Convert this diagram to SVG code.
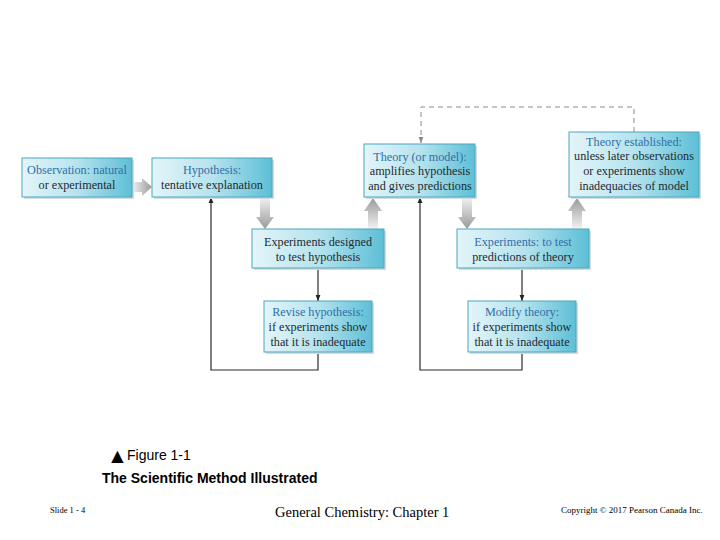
<svg xmlns="http://www.w3.org/2000/svg" width="720" height="540" viewBox="0 0 720 540">
<defs>
<linearGradient id="boxg" x1="0" y1="0" x2="1" y2="0">
<stop offset="0" stop-color="#e3f5f9"/>
<stop offset="0.5" stop-color="#b6e3ee"/>
<stop offset="1" stop-color="#5dbfd6"/>
</linearGradient>
<linearGradient id="gdown" x1="0" y1="0" x2="0" y2="1">
<stop offset="0" stop-color="#f2f2f2"/>
<stop offset="1" stop-color="#9a9a9a"/>
</linearGradient>
<linearGradient id="gup" x1="0" y1="1" x2="0" y2="0">
<stop offset="0" stop-color="#f2f2f2"/>
<stop offset="1" stop-color="#9a9a9a"/>
</linearGradient>
<linearGradient id="gright" x1="0" y1="0" x2="1" y2="0">
<stop offset="0" stop-color="#f2f2f2"/>
<stop offset="1" stop-color="#9a9a9a"/>
</linearGradient>
<marker id="ah" viewBox="0 0 10 10" refX="10" refY="5" markerWidth="6" markerHeight="6" orient="auto" markerUnits="userSpaceOnUse">
<path d="M0,1 L10,5 L0,9 z" fill="#222"/>
</marker>
<marker id="ahg" viewBox="0 0 10 10" refX="10" refY="5" markerWidth="6" markerHeight="6" orient="auto" markerUnits="userSpaceOnUse">
<path d="M0,1 L10,5 L0,9 z" fill="#888"/>
</marker>
</defs>
<style>
.box{fill:url(#boxg);stroke:#4aa6be;stroke-width:1}
.sh{fill:#d3dcdf}
.t{font-family:"Liberation Serif","Times New Roman",serif;font-size:12.2px;text-anchor:middle;fill:#1e2a30}
.h{fill:#2f6fa8}
.ln{fill:none;stroke:#2a2a2a;stroke-width:1.2}
.dash{fill:none;stroke:#8a8a8a;stroke-width:1;stroke-dasharray:5,4}
.foot{font-family:"Liberation Sans",Arial,sans-serif;fill:#000}
.ser{font-family:"Liberation Serif","Times New Roman",serif;fill:#000}
</style>
<rect width="720" height="540" fill="#fff"/>

<g id="connectors">
<path class="dash" d="M634,132 V107 H421 V143" marker-end="url(#ahg)"/>
<path d="M132,182 H142 V178 L152,187 L142,196 V192 H132 z" fill="url(#gright)"/>
<path d="M260,197 H270 V217 H274 L265,229 L256,217 H260 z" fill="url(#gdown)"/>
<path d="M368,229 H378 V211 H382 L373,198 L364,211 H368 z" fill="url(#gup)"/>
<path d="M462,197 H472 V217 H476 L467,229 L458,217 H462 z" fill="url(#gdown)"/>
<path d="M572,229 H582 V211 H586 L577,198 L568,211 H572 z" fill="url(#gup)"/>
<path class="ln" d="M318,269 V301" marker-end="url(#ah)"/>
<path class="ln" d="M318,353 V370 H211 V197" marker-end="url(#ah)"/>
<path class="ln" d="M522,269 V301" marker-end="url(#ah)"/>
<path class="ln" d="M522,353 V370 H420 V197" marker-end="url(#ah)"/>
</g>

<g id="observation">
<rect class="sh" x="24" y="160" width="110" height="39"/>
<rect class="box" x="22" y="158" width="110" height="39"/>
<text class="t h" x="77" y="174">Observation: natural</text>
<text class="t" x="77" y="189">or experimental</text>
</g>

<g id="hypothesis">
<rect class="sh" x="154" y="160" width="120" height="39"/>
<rect class="box" x="152" y="158" width="120" height="39"/>
<text class="t h" x="212" y="174">Hypothesis:</text>
<text class="t" x="212" y="189">tentative explanation</text>
</g>

<g id="theory">
<rect class="sh" x="366" y="146" width="111" height="53"/>
<rect class="box" x="364" y="144" width="111" height="53"/>
<text class="t h" x="420" y="161">Theory (or model):</text>
<text class="t" x="420" y="175">amplifies hypothesis</text>
<text class="t" x="420" y="190">and gives predictions</text>
</g>

<g id="theory-established">
<rect class="sh" x="571" y="134" width="130" height="65"/>
<rect class="box" x="569" y="132" width="130" height="65"/>
<text class="t h" x="634" y="146">Theory established:</text>
<text class="t" x="634" y="160">unless later observations</text>
<text class="t" x="634" y="175">or experiments show</text>
<text class="t" x="634" y="190">inadequacies of model</text>
</g>

<g id="experiments-designed">
<rect class="sh" x="254" y="231" width="132" height="39"/>
<rect class="box" x="252" y="229" width="132" height="39"/>
<text class="t" x="318" y="246">Experiments designed</text>
<text class="t" x="318" y="261">to test hypothesis</text>
</g>

<g id="experiments-test">
<rect class="sh" x="459" y="231" width="132" height="39"/>
<rect class="box" x="457" y="229" width="132" height="39"/>
<text class="t h" x="523" y="246">Experiments: to test</text>
<text class="t" x="523" y="261">predictions of theory</text>
</g>

<g id="revise-hypothesis">
<rect class="sh" x="266" y="303" width="108" height="51"/>
<rect class="box" x="264" y="301" width="108" height="51"/>
<text class="t h" x="318" y="316">Revise hypothesis:</text>
<text class="t" x="318" y="331">if experiments show</text>
<text class="t" x="318" y="346">that it is inadequate</text>
</g>

<g id="modify-theory">
<rect class="sh" x="470" y="303" width="108" height="51"/>
<rect class="box" x="468" y="301" width="108" height="51"/>
<text class="t h" x="522" y="316">Modify theory:</text>
<text class="t" x="522" y="331">if experiments show</text>
<text class="t" x="522" y="346">that it is inadequate</text>
</g>

<g id="footer">
<text class="foot" x="107" y="463" font-size="21">▲</text>
<text class="foot" x="127" y="460" font-size="14">Figure 1-1</text>
<text class="foot" x="102" y="483" font-size="14" font-weight="bold">The Scientific Method Illustrated</text>
<text class="ser" x="50" y="513" font-size="8.5">Slide 1 - 4</text>
<text class="ser" x="275" y="517" font-size="14.5">General Chemistry: Chapter 1</text>
<text class="ser" x="561" y="513" font-size="9">Copyright © 2017 Pearson Canada Inc.</text>
</g>
</svg>
